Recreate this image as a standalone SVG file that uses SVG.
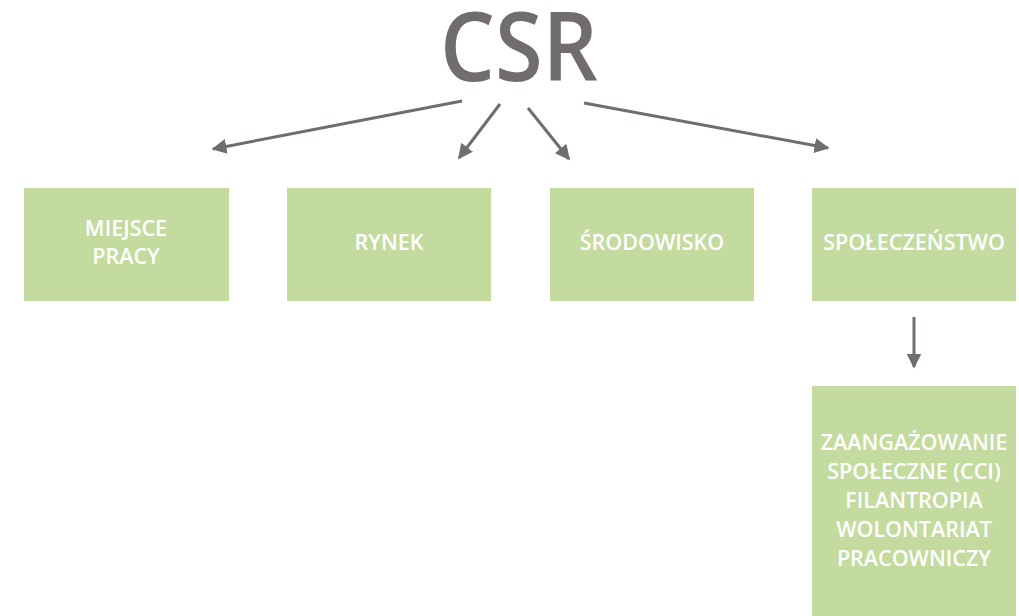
<svg xmlns="http://www.w3.org/2000/svg" width="1019" height="616" viewBox="0 0 1019 616">
<defs>
<marker id="ah" viewBox="0 0 10 10" refX="9" refY="5" markerWidth="5" markerHeight="5" orient="auto" markerUnits="strokeWidth">
<path d="M0,0 L10,5 L0,10 z" fill="#716c6e"/>
</marker>
<style>
.box{fill:#c3db9e}
.lbl{font-family:"Open Sans","Liberation Sans",sans-serif;font-size:21.5px;font-weight:600;fill:#ffffff;text-anchor:middle}
.arr{stroke:#716c6e;stroke-width:3;fill:none;marker-end:url(#ah)}
</style>
</defs>
<rect width="1019" height="616" fill="#ffffff"/>
<g id="title"><text x="519" y="81" font-family="'Open Sans','Liberation Sans',sans-serif" font-size="96" font-weight="600" fill="#716c6e" text-anchor="middle" textLength="158" lengthAdjust="spacingAndGlyphs">CSR</text></g>
<g id="connectors">
<line class="arr" x1="462" y1="101" x2="213" y2="149"/>
<line class="arr" x1="500" y1="104" x2="459" y2="158"/>
<line class="arr" x1="528" y1="108" x2="569" y2="159"/>
<line class="arr" x1="584" y1="103" x2="828" y2="148"/>
<line class="arr" x1="914" y1="317" x2="914" y2="367"/>
</g>
<g id="n1"><rect class="box" x="24" y="188" width="205" height="113"/><text class="lbl" x="126" y="236">MIEJSCE</text><text class="lbl" x="126" y="264">PRACY</text></g>
<g id="n2"><rect class="box" x="287" y="188" width="204" height="113"/><text class="lbl" x="389" y="250">RYNEK</text></g>
<g id="n3"><rect class="box" x="550" y="188" width="204" height="113"/><text class="lbl" x="652" y="250">ŚRODOWISKO</text></g>
<g id="n4"><rect class="box" x="812" y="188" width="204" height="113"/><text class="lbl" x="914" y="250">SPOŁECZEŃSTWO</text></g>
<g id="n5"><rect class="box" x="812" y="386" width="204" height="230"/>
<text class="lbl" x="914" y="450">ZAANGAŻOWANIE</text>
<text class="lbl" x="914" y="479">SPOŁECZNE (CCI)</text>
<text class="lbl" x="914" y="508">FILANTROPIA</text>
<text class="lbl" x="914" y="537">WOLONTARIAT</text>
<text class="lbl" x="914" y="566">PRACOWNICZY</text>
</g>
</svg>
